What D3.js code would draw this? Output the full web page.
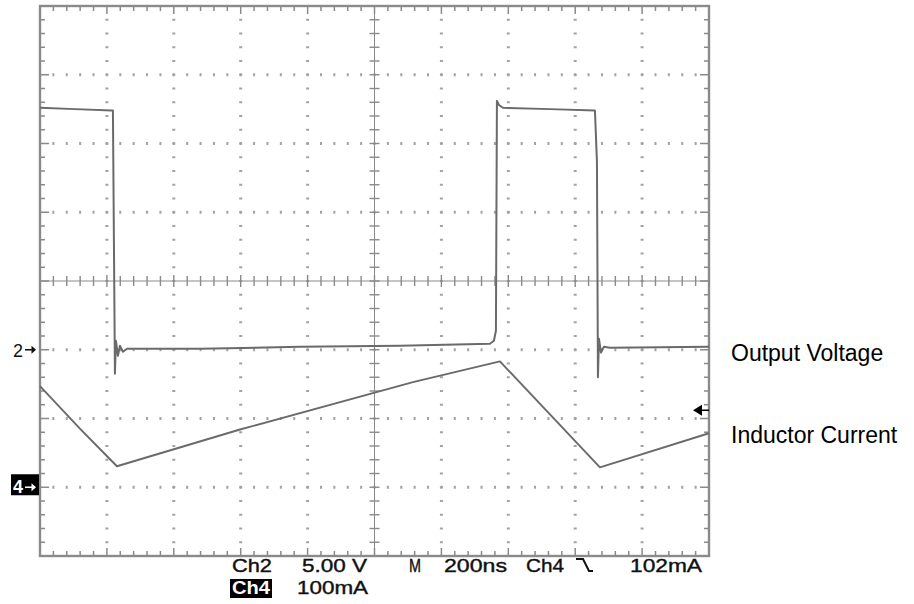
<!DOCTYPE html>
<html><head><meta charset="utf-8">
<script src="https://cdn.jsdelivr.net/npm/d3@7"></script>
<style>body{margin:0;background:#fff}svg{display:block}</style>
</head><body>
<svg id="c" width="914" height="604"></svg>
<script>
// ---- data ----
const voltTimeNs = [0,105,215,218,224,227,233,239,248,260,478,777,1076,1345,1357,1363,1366,1372,1384,1525,1659,1665,1668,1671,1677,1686,1704,2000];
const voltValueV = [17.6,17.5,17.4,17.4,-1.75,0.65,-0.44,0.29,-0.15,0.07,0.07,0.22,0.29,0.44,0.65,1.38,18.1,17.8,17.6,17.5,17.4,13.7,-2.0,0.8,-0.2,0.22,0.15,0.22];
const currTimeNs = [0,120,230,598,1115,1375,1674,2000];
const currValueMA = [147,85,30.5,84,153,183,29,78.5];
const hDivs = 10, vDivs = 8, minorPerDiv = 5;
const timePerDivNs = 200, ch2VoltsPerDiv = 5, ch4MAPerDiv = 100;
const ch2OffsetDiv = -1, ch4OffsetDiv = -3;
const triggerMarkerMA = 112;
const traceLabels = ["Output Voltage", "Inductor Current"];
const readoutRow1 = [
  {t:"Ch2", x:232, w:40}, {t:"5.00 V", x:302, w:65}, {t:"M", x:409, w:12},
  {t:"200ns", x:444, w:63}, {t:"Ch4", x:526, w:38}, {t:"102mA", x:630, w:72}
];
const readoutRow2 = [{t:"100mA", x:297, w:71}];

// ---- scales ----
const X0 = 40, X1 = 709, Y0 = 6, Y1 = 556;
const svg = d3.select("#c");
const x = d3.scaleLinear().domain([0, hDivs*timePerDivNs]).range([X0, X1]);
const xDiv = d3.scaleLinear().domain([0, hDivs]).range([X0, X1]);
const yDiv = d3.scaleLinear().domain([-vDivs/2, vDivs/2]).range([Y1, Y0]);
const yV = v => yDiv(v/ch2VoltsPerDiv + ch2OffsetDiv);
const yI = i => yDiv(i/ch4MAPerDiv + ch4OffsetDiv);

const gridCol = "#a2a2a2", frameCol = "#8a8a8a";
const g = svg.append("g");

// dotted grid lines
const minorX = d3.range(0, hDivs*minorPerDiv+1).map(i => i/minorPerDiv);
const minorY = d3.range(0, vDivs*minorPerDiv+1).map(i => i/minorPerDiv - vDivs/2);
const majorX = d3.range(1, hDivs).filter(d => d !== hDivs/2);
const majorY = d3.range(-vDivs/2+1, vDivs/2).filter(d => d !== 0);
majorX.forEach(mx => {
  g.selectAll(null).data(minorY.slice(1,-1)).enter().append("rect")
    .attr("x", xDiv(mx)-1.5).attr("y", d => yDiv(d)-1).attr("width", 3).attr("height", 2).attr("fill", gridCol);
});
majorY.forEach(my => {
  g.selectAll(null).data(minorX.slice(1,-1)).enter().append("rect")
    .attr("x", d => xDiv(d)-1).attr("y", yDiv(my)-1.5).attr("width", 2).attr("height", 3).attr("fill", gridCol);
});

// center cross lines with ticks
g.append("line").attr("x1", X0).attr("x2", X1).attr("y1", yDiv(0)).attr("y2", yDiv(0)).attr("stroke", frameCol).attr("stroke-width", 1);
g.append("line").attr("x1", xDiv(hDivs/2)).attr("x2", xDiv(hDivs/2)).attr("y1", Y0).attr("y2", Y1).attr("stroke", frameCol).attr("stroke-width", 1);
g.selectAll(null).data(minorX.slice(1,-1)).enter().append("line")
  .attr("x1", d => xDiv(d)).attr("x2", d => xDiv(d))
  .attr("y1", d => yDiv(0) - (Number.isInteger(d)?6:5)).attr("y2", d => yDiv(0) + (Number.isInteger(d)?6:5))
  .attr("stroke", frameCol).attr("stroke-width", 1.4);
g.selectAll(null).data(minorY.slice(1,-1)).enter().append("line")
  .attr("y1", d => yDiv(d)).attr("y2", d => yDiv(d))
  .attr("x1", xDiv(hDivs/2)-5).attr("x2", xDiv(hDivs/2)+5)
  .attr("stroke", frameCol).attr("stroke-width", 1.4);

// frame edge ticks
const isMajor = d => Math.abs(d - Math.round(d)) < 1e-6;
g.selectAll(null).data(minorX.slice(1,-1)).enter().append("line")
  .attr("x1", d => xDiv(d)).attr("x2", d => xDiv(d))
  .attr("y1", Y0).attr("y2", d => Y0 + (isMajor(d)?8:5)).attr("stroke", frameCol).attr("stroke-width", 1.5);
g.selectAll(null).data(minorX.slice(1,-1)).enter().append("line")
  .attr("x1", d => xDiv(d)).attr("x2", d => xDiv(d))
  .attr("y1", Y1).attr("y2", d => Y1 - (isMajor(d)?8:5)).attr("stroke", frameCol).attr("stroke-width", 1.5);
g.selectAll(null).data(minorY.slice(1,-1)).enter().append("line")
  .attr("y1", d => yDiv(d)).attr("y2", d => yDiv(d))
  .attr("x1", X0).attr("x2", d => X0 + (isMajor(d)?9:5)).attr("stroke", frameCol).attr("stroke-width", 1.5);
g.selectAll(null).data(minorY.slice(1,-1)).enter().append("line")
  .attr("y1", d => yDiv(d)).attr("y2", d => yDiv(d))
  .attr("x1", X1).attr("x2", d => X1 - (isMajor(d)?9:5)).attr("stroke", frameCol).attr("stroke-width", 1.5);

// frame
g.append("rect").attr("x", X0).attr("y", Y0).attr("width", X1-X0).attr("height", Y1-Y0)
  .attr("fill", "none").attr("stroke", frameCol).attr("stroke-width", 2.4);

// traces
const voltData = voltTimeNs.map((t,i) => [t, voltValueV[i]]);
const currData = currTimeNs.map((t,i) => [t, currValueMA[i]]);
svg.append("path").datum(voltData)
  .attr("d", d3.line().x(d => x(d[0])).y(d => yV(d[1])))
  .attr("fill", "none").attr("stroke", "#6a6a6a").attr("stroke-width", 2).attr("stroke-linejoin", "round");
svg.append("path").datum(currData)
  .attr("d", d3.line().x(d => x(d[0])).y(d => yI(d[1])))
  .attr("fill", "none").attr("stroke", "#6a6a6a").attr("stroke-width", 1.9).attr("stroke-linejoin", "round");

// channel ground markers
const arrow = (gx, y, col) => {
  svg.append("line").attr("x1", gx).attr("x2", gx+10).attr("y1", y).attr("y2", y).attr("stroke", col).attr("stroke-width", 1.6);
  svg.append("path").attr("d", `M${gx+11},${y} l-4.5,-4 v8 z`).attr("fill", col);
};
const y2 = yDiv(ch2OffsetDiv), y4 = yDiv(ch4OffsetDiv);
const font = "Liberation Sans, Arial, sans-serif";
svg.append("text").attr("x", 13).attr("y", y2+7).attr("font-family", font)
  .attr("font-size", 18).attr("fill", "#111").text("2");
arrow(25, y2, "#111");
svg.append("rect").attr("x", 11).attr("y", y4-13).attr("width", 28).attr("height", 21).attr("fill", "#000");
svg.append("text").attr("x", 13).attr("y", y4+6).attr("font-family", font)
  .attr("font-size", 18).attr("font-weight", "bold").attr("fill", "#fff").text("4");
arrow(25, y4, "#fff");

// trigger level marker
const yt = yI(triggerMarkerMA);
svg.append("path").attr("d", `M${X1-16},${yt} l9,-5.5 v11 z`).attr("fill", "#000");
svg.append("line").attr("x1", X1-8).attr("x2", X1).attr("y1", yt).attr("y2", yt).attr("stroke", "#000").attr("stroke-width", 1.5);

// readouts
svg.selectAll(null).data(readoutRow1).enter().append("text")
  .attr("x", d => d.x).attr("y", 572).attr("font-family", font).attr("font-size", 19)
  .attr("fill", "#111").attr("stroke", "#111").attr("stroke-width", 0.4)
  .attr("textLength", d => d.w).attr("lengthAdjust", "spacingAndGlyphs").text(d => d.t);
svg.append("path").attr("d", "M576,559 H583 L589,571 H593").attr("fill", "none").attr("stroke", "#111").attr("stroke-width", 2);
svg.append("rect").attr("x", 230).attr("y", 579).attr("width", 42).attr("height", 19).attr("fill", "#000");
svg.append("text").attr("x", 232).attr("y", 594).attr("font-family", font).attr("font-size", 19).attr("font-weight", "bold")
  .attr("fill", "#fff").attr("textLength", 38).attr("lengthAdjust", "spacingAndGlyphs").text("Ch4");
svg.selectAll(null).data(readoutRow2).enter().append("text")
  .attr("x", d => d.x).attr("y", 594).attr("font-family", font).attr("font-size", 19)
  .attr("fill", "#111").attr("stroke", "#111").attr("stroke-width", 0.4)
  .attr("textLength", d => d.w).attr("lengthAdjust", "spacingAndGlyphs").text(d => d.t);

// trace labels
svg.selectAll(null).data(traceLabels).enter().append("text")
  .attr("x", 731).attr("y", (d,i) => [361, 443][i]).attr("font-family", font).attr("font-size", 23)
  .attr("fill", "#000").text(d => d);
</script>
</body></html>
